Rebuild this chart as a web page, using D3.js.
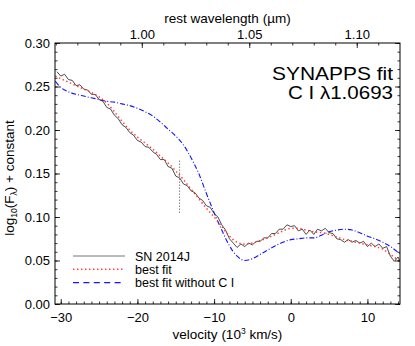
<!DOCTYPE html>
<html>
<head>
<meta charset="utf-8">
<script src="https://cdn.jsdelivr.net/npm/d3@7"></script>
<style>
  body { margin: 0; background: #fff; }
  svg { font-family: "Liberation Sans", Arial, sans-serif; }
</style>
</head>
<body>
<svg id="chart" width="415" height="346"></svg>
<script>
// velocity grid (10^3 km/s) for the observed spectrum
const obsVel = [-30.5,-30,-29.5,-29,-28.5,-28,-27.5,-27,-26.5,-26,-25.5,-25,-24.5,-24,-23.5,-23,-22.5,-22,-21.5,-21,-20.5,-20,-19.5,-19,-18.5,-18,-17.5,-17,-16.5,-16,-15.5,-15,-14.5,-14,-13.5,-13,-12.5,-12,-11.5,-11,-10.5,-10,-9.5,-9,-8.5,-8,-7.5,-7,-6.5,-6,-5.5,-5,-4.5,-4,-3.5,-3,-2.5,-2,-1.5,-1,-0.5,0,0.5,1,1.5,2,2.5,3,3.5,4,4.5,5,5.5,6,6.5,7,7.5,8,8.5,9,9.5,10,10.5,11,11.5,12,12.5,13,13.5,14,14.2];
const obsFlux = [0.267,0.262,0.264,0.258,0.257,0.251,0.252,0.247,0.246,0.241,0.241,0.235,0.233,0.226,0.224,0.217,0.213,0.206,0.203,0.197,0.194,0.188,0.186,0.181,0.180,0.175,0.172,0.166,0.166,0.158,0.156,0.147,0.145,0.138,0.136,0.130,0.128,0.122,0.119,0.113,0.111,0.104,0.100,0.091,0.085,0.075,0.070,0.065,0.069,0.066,0.070,0.068,0.072,0.072,0.076,0.076,0.081,0.081,0.086,0.086,0.091,0.089,0.090,0.084,0.086,0.080,0.085,0.080,0.086,0.084,0.087,0.082,0.081,0.075,0.074,0.071,0.074,0.071,0.073,0.070,0.072,0.066,0.070,0.066,0.069,0.064,0.066,0.055,0.049,0.054,0.050];

// model grid
const fitVel = [-30.7,-30,-29,-28,-27,-26,-25,-24,-23,-22,-21,-20,-19,-18,-17,-16,-15,-14,-13,-12,-11,-10,-9,-8,-7,-6,-5,-4,-3,-2,-1,0,1,2,3,4,5,6,7,8,9,10,11,12,13,14.2];
const bestFit = [0.262,0.259,0.255,0.251,0.247,0.243,0.238,0.231,0.221,0.210,0.200,0.192,0.185,0.178,0.170,0.162,0.153,0.143,0.132,0.121,0.110,0.100,0.089,0.078,0.071,0.069,0.070,0.073,0.076,0.080,0.084,0.087,0.087,0.085,0.083,0.082,0.080,0.077,0.074,0.072,0.070,0.068,0.066,0.063,0.057,0.049];
const fitNoC = [0.256,0.249,0.244,0.241,0.239,0.237,0.235,0.233,0.232,0.230,0.228,0.225,0.221,0.216,0.209,0.201,0.193,0.183,0.168,0.150,0.127,0.105,0.085,0.067,0.055,0.050,0.052,0.057,0.062,0.067,0.071,0.074,0.075,0.076,0.076,0.079,0.083,0.085,0.086,0.085,0.082,0.078,0.075,0.071,0.066,0.058];

// marker line
const markerVel = -14.5;
const markerRange = [0.105, 0.165];

const xTicks = [-30, -20, -10, 0, 10];
const yTicks = [0, 0.05, 0.10, 0.15, 0.20, 0.25, 0.30];
const waveTicks = [1.00, 1.05, 1.10];
const lambda0 = 1.0693;
const cKms = 299.792458; // 10^3 km/s

const legendLabels = ["SN 2014J", "best fit", "best fit without C I"];

const svg = d3.select('#chart');
const mLeft = 55, mRight = 400, mTop = 43, mBottom = 304;

const x = d3.scaleLinear().domain([-30.75, 14.25]).range([mLeft, mRight]);
const y = d3.scaleLinear().domain([0, 0.30]).range([mBottom, mTop]);
const waveToVel = (w) => cKms * (w / lambda0 - 1);

const plot = svg.append('g');

// clip
svg.append('clipPath').attr('id', 'clip')
  .append('rect').attr('x', mLeft).attr('y', mTop).attr('width', mRight - mLeft).attr('height', mBottom - mTop);

const line = d3.line().x(d => x(d[0])).y(d => y(d[1]));
const smooth = d3.line().curve(d3.curveMonotoneX).x(d => x(d[0])).y(d => y(d[1]));

const curves = plot.append('g').attr('clip-path', 'url(#clip)');

curves.append('path')
  .datum(fitVel.map((v, i) => [v, fitNoC[i]]))
  .attr('fill', 'none').attr('stroke', '#1414ff').attr('stroke-width', 1.1)
  .attr('stroke-dasharray', '5,2,1,2')
  .attr('d', smooth);

curves.append('path')
  .datum(obsVel.map((v, i) => [v, obsFlux[i]]))
  .attr('fill', 'none').attr('stroke', '#111').attr('stroke-width', 0.75)
  .attr('d', line);

curves.append('path')
  .datum(fitVel.map((v, i) => [v, bestFit[i]]))
  .attr('fill', 'none').attr('stroke', '#ff3a3a').attr('stroke-width', 1.5)
  .attr('stroke-dasharray', '1.4,2.6')
  .attr('d', smooth);

plot.append('line')
  .attr('x1', x(markerVel)).attr('x2', x(markerVel))
  .attr('y1', y(markerRange[0])).attr('y2', y(markerRange[1]))
  .attr('stroke', '#444').attr('stroke-width', 1).attr('stroke-dasharray', '1,2');

// frame
svg.append('rect').attr('x', mLeft).attr('y', mTop).attr('width', mRight - mLeft).attr('height', mBottom - mTop)
  .attr('fill', 'none').attr('stroke', '#000').attr('stroke-width', 1);

const tickSize = 5, minorSize = 2.5;

// bottom axis
const xAxis = d3.axisBottom(x).tickValues(xTicks).tickSize(-tickSize).tickPadding(9)
  .tickFormat(d => d3.format('d')(d).replace('-', '\u2212'));
svg.append('g').attr('transform', `translate(0,${mBottom})`).call(xAxis);
svg.append('g').attr('transform', `translate(0,${mBottom})`)
  .call(d3.axisBottom(x).tickValues(d3.range(-30, 15, 1)).tickSize(-minorSize).tickFormat(''));

// left axis
const yAxis = d3.axisLeft(y).tickValues(yTicks).tickSize(-tickSize).tickPadding(5)
  .tickFormat(d3.format('.2f'));
svg.append('g').attr('transform', `translate(${mLeft},0)`).call(yAxis);
const yMinorVals = d3.range(0, 0.301, 0.01);
svg.append('g').attr('transform', `translate(${mLeft},0)`)
  .call(d3.axisLeft(y).tickValues(yMinorVals).tickSize(-minorSize).tickFormat(''));

// right axis
svg.append('g').attr('transform', `translate(${mRight},0)`)
  .call(d3.axisRight(y).tickValues(yTicks).tickSize(-tickSize).tickFormat(''));
svg.append('g').attr('transform', `translate(${mRight},0)`)
  .call(d3.axisRight(y).tickValues(yMinorVals).tickSize(-minorSize).tickFormat(''));

// top axis in rest wavelength
svg.append('g').attr('transform', `translate(0,${mTop})`)
  .call(d3.axisTop(x).tickValues(waveTicks.map(waveToVel)).tickSize(-tickSize).tickPadding(4)
    .tickFormat((d, i) => d3.format('.2f')(waveTicks[i])));
const waveMinor = d3.range(96, 112, 1).map(v => waveToVel(v / 100));
svg.append('g').attr('transform', `translate(0,${mTop})`)
  .call(d3.axisTop(x).tickValues(waveMinor).tickSize(-minorSize).tickFormat(''));

svg.selectAll('.domain').remove();
svg.selectAll('.tick line').attr('stroke', '#000').attr('stroke-width', 0.8);
svg.selectAll('.tick text').attr('fill', '#000').attr('font-size', 13)
  .attr('font-family', '"Liberation Sans", Arial, sans-serif');

// axis titles
svg.append('text').attr('x', (mLeft + mRight) / 2).attr('y', 339).attr('text-anchor', 'middle')
  .attr('font-size', 13.5)
  .html('velocity (10<tspan dy="-5" font-size="8.5">3</tspan><tspan dy="5"> km/s)</tspan>');

svg.append('text').attr('x', (mLeft + mRight) / 2).attr('y', 23).attr('text-anchor', 'middle')
  .attr('font-size', 13.5).text('rest wavelength (\u00b5m)');

svg.append('text').attr('transform', 'translate(14,178) rotate(-90)').attr('text-anchor', 'middle')
  .attr('font-size', 13.5)
  .html('log<tspan dy="3" font-size="8.5">10</tspan><tspan dy="-3">(F</tspan><tspan dy="3" font-size="8.5">\u03bb</tspan><tspan dy="-3">) + constant</tspan>');

// annotation
svg.append('text').attr('x', 393).attr('y', 80).attr('text-anchor', 'end')
  .attr('font-size', 17.5).attr('textLength', 121).attr('lengthAdjust', 'spacingAndGlyphs')
  .text('SYNAPPS fit');
svg.append('text').attr('x', 393).attr('y', 98.5).attr('text-anchor', 'end')
  .attr('font-size', 17.5).attr('textLength', 105).attr('lengthAdjust', 'spacingAndGlyphs')
  .text('C I \u03bb1.0693');

// legend
const legendStyles = [
  { stroke: '#666', dash: null, width: 0.9 },
  { stroke: '#ff3a3a', dash: '1.4,2.6', width: 1.5 },
  { stroke: '#1414ff', dash: '6,4.4', width: 1.1 }
];
const legend = svg.append('g');
legendLabels.forEach((lab, i) => {
  const yy = 256 + i * 13.3;
  legend.append('line').attr('x1', 73).attr('x2', 125).attr('y1', yy).attr('y2', yy)
    .attr('stroke', legendStyles[i].stroke).attr('stroke-width', legendStyles[i].width)
    .attr('stroke-dasharray', legendStyles[i].dash);
  legend.append('text').attr('x', 135).attr('y', yy + 4.5).attr('font-size', 12.5).text(lab);
});
</script>
</body>
</html>
